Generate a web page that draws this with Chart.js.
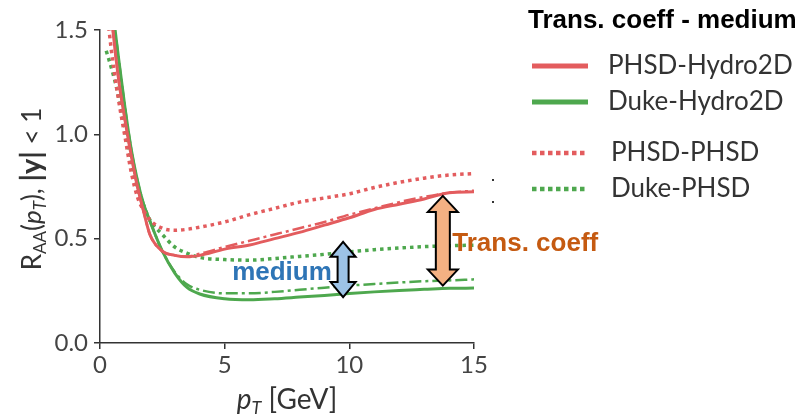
<!DOCTYPE html>
<html>
<head>
<meta charset="utf-8">
<script src="https://cdn.jsdelivr.net/npm/chart.js@4/dist/chart.umd.min.js"></script>
<style>
html,body{margin:0;padding:0;background:#fff;}
canvas{display:block;}
</style>
</head>
<body>
<canvas id="c" width="807" height="414"></canvas>
<script>
// ---- data ----
const pT = [0.25,0.5,0.75,1.0,1.25,1.5,1.75,2.0,2.5,3.0,3.5,4,5,6,7,8,9,10,11,12,13,14,15];
const phsdHydro   = [1.85,1.52,1.26,1.07,0.90,0.75,0.63,0.52,0.44,0.42,0.413,0.42,0.45,0.47,0.50,0.53,0.565,0.60,0.64,0.665,0.69,0.72,0.725];
const phsdHydroDD = [1.85,1.52,1.26,1.07,0.90,0.75,0.63,0.52,0.44,0.42,0.415,0.428,0.46,0.49,0.52,0.55,0.58,0.615,0.645,0.675,0.70,0.72,0.73];
const phsdPhsd    = [1.62,1.36,1.16,0.99,0.82,0.70,0.635,0.59,0.55,0.54,0.545,0.555,0.58,0.615,0.645,0.675,0.695,0.715,0.745,0.77,0.79,0.805,0.812];
const dukeHydro   = [2.0,1.62,1.36,1.13,0.93,0.78,0.665,0.585,0.44,0.335,0.265,0.235,0.212,0.207,0.212,0.22,0.228,0.237,0.245,0.252,0.257,0.262,0.263];
const dukeHydroDD = [2.0,1.62,1.36,1.13,0.93,0.78,0.665,0.585,0.44,0.34,0.28,0.255,0.238,0.238,0.245,0.255,0.265,0.275,0.283,0.29,0.296,0.30,0.305];
const dukePhsd    = [1.40,1.30,1.18,1.03,0.88,0.74,0.66,0.59,0.52,0.46,0.43,0.41,0.40,0.397,0.405,0.415,0.425,0.437,0.447,0.455,0.462,0.466,0.469];

const xTicks = [0,5,10,15];
const yTicks = [0.0,0.5,1.0,1.5];

const legendTitle = 'Trans. coeff - medium';
const legendLabels = ['PHSD-Hydro2D','Duke-Hydro2D','PHSD-PHSD','Duke-PHSD'];

// annotations in data coordinates
const arrowMedium = {x:9.75, y0:0.22, y1:0.485, label:'medium', lx:5.3, ly:0.335};
const arrowTrans  = {x:13.75, y0:0.275, y1:0.705, label:'Trans. coeff', lx:14.13, ly:0.474};

const RED = '#e35c5e';
const GREEN = '#4ea84e';

function pts(ys){ return pT.map((x,i)=>({x:x,y:ys[i]})); }

const datasets = [
  {label:legendLabels[0], data:pts(phsdHydro), borderColor:RED, borderWidth:3},
  {label:'', data:pts(phsdHydroDD), borderColor:RED, borderWidth:2.5, borderDash:[12,4,3,4]},
  {label:legendLabels[2], data:pts(phsdPhsd), borderColor:RED, borderWidth:3.5, borderDash:[3.5,4]},
  {label:legendLabels[1], data:pts(dukeHydro), borderColor:GREEN, borderWidth:3},
  {label:'', data:pts(dukeHydroDD), borderColor:GREEN, borderWidth:2.5, borderDash:[12,4,3,4]},
  {label:legendLabels[3], data:pts(dukePhsd), borderColor:GREEN, borderWidth:3.5, borderDash:[3.5,4]},
];
datasets.forEach(d=>{d.fill=false; d.pointRadius=0; d.cubicInterpolationMode='monotone';});

function doubleArrow(ctx, cx, top, bottom, headW, headH, shaftW, fill){
  ctx.save();
  ctx.beginPath();
  ctx.moveTo(cx, top);
  ctx.lineTo(cx+headW/2, top+headH);
  ctx.lineTo(cx+shaftW/2, top+headH);
  ctx.lineTo(cx+shaftW/2, bottom-headH);
  ctx.lineTo(cx+headW/2, bottom-headH);
  ctx.lineTo(cx, bottom);
  ctx.lineTo(cx-headW/2, bottom-headH);
  ctx.lineTo(cx-shaftW/2, bottom-headH);
  ctx.lineTo(cx-shaftW/2, top+headH);
  ctx.lineTo(cx-headW/2, top+headH);
  ctx.closePath();
  ctx.fillStyle = fill; ctx.fill();
  ctx.lineWidth = 2; ctx.strokeStyle = '#000'; ctx.lineJoin='miter'; ctx.stroke();
  ctx.restore();
}

function drawRuns(ctx, runs, x, y){
  let cx = x;
  runs.forEach(r=>{ ctx.font=r.font; ctx.fillText(r.t, cx, y+(r.dy||0)); cx += ctx.measureText(r.t).width; });
}
function runsWidth(ctx, runs){
  let w=0; runs.forEach(r=>{ctx.font=r.font; w+=ctx.measureText(r.t).width;}); return w;
}

const overlay = {
  id:'overlay',
  afterDraw(chart){
    const ctx = chart.ctx, xs = chart.scales.x, ys = chart.scales.y;
    ctx.save();
    // arrows
    doubleArrow(ctx, xs.getPixelForValue(arrowMedium.x), ys.getPixelForValue(arrowMedium.y1), ys.getPixelForValue(arrowMedium.y0), 25, 15, 11, '#9dc3e6');
    doubleArrow(ctx, xs.getPixelForValue(arrowTrans.x), ys.getPixelForValue(arrowTrans.y1), ys.getPixelForValue(arrowTrans.y0), 30, 16, 14, '#f4b183');
    ctx.textBaseline='middle'; ctx.textAlign='left';
    ctx.font='bold 26px "Liberation Sans", Arial, sans-serif';
    ctx.fillStyle='#2e75b6';
    ctx.fillText(arrowMedium.label, xs.getPixelForValue(arrowMedium.lx), ys.getPixelForValue(arrowMedium.ly));
    ctx.fillStyle='#c55a11';
    ctx.fillText(arrowTrans.label, xs.getPixelForValue(arrowTrans.lx), ys.getPixelForValue(arrowTrans.ly));

    // stray dots (cropped legend remnants)
    ctx.fillStyle='#333';
    ctx.fillRect(492,179,2,2); ctx.fillRect(492,201,2,2);

    // axis titles
    ctx.fillStyle='#333';
    ctx.textBaseline='alphabetic';
    const xr = [{t:'p',font:'italic 28px Lato, sans-serif'},{t:'T',font:'italic 18px Lato, sans-serif',dy:5},{t:' [GeV]',font:'28px Lato, sans-serif'}];
    const xw = runsWidth(ctx,xr);
    drawRuns(ctx, xr, (xs.left+xs.right)/2 - xw/2, 409);

    const base = '26px Lato, sans-serif';
    const sub  = '17px Lato, sans-serif';
    const yr = [{t:'R',font:base},{t:'AA',font:sub,dy:5},{t:'(',font:base},{t:'p',font:'italic 26px Lato, sans-serif'},{t:'T',font:'italic 17px Lato, sans-serif',dy:5},{t:'), ',font:base},{t:'|y|',font:'bold 29px Lato, sans-serif'},{t:' < 1',font:base}];
    const yw = runsWidth(ctx,yr);
    ctx.save();
    ctx.translate(41, 189);
    ctx.rotate(-Math.PI/2);
    drawRuns(ctx, yr, -yw/2, 0);
    ctx.restore();

    // legend
    ctx.fillStyle='#000';
    ctx.textBaseline='middle';
    ctx.font='bold 26px "Liberation Sans", Arial, sans-serif';
    ctx.fillText(legendTitle, 528, 21);
    const items = [
      {ds:datasets[0], y:66, tx:608},
      {ds:datasets[3], y:102, tx:608},
      {ds:datasets[2], y:153, tx:611},
      {ds:datasets[5], y:189, tx:611},
    ];
    items.forEach(it=>{
      ctx.save();
      ctx.strokeStyle = it.ds.borderColor;
      ctx.lineWidth = it.ds.borderDash ? 4.5 : 5;
      if(it.ds.borderDash){ ctx.setLineDash([4.5,3.5]); }
      ctx.beginPath(); ctx.moveTo(532, it.y); ctx.lineTo(588, it.y); ctx.stroke();
      ctx.restore();
      ctx.fillStyle='#333';
      ctx.font='26px Lato, sans-serif';
      ctx.fillText(it.ds.label, it.tx, it.y);
    });
    ctx.restore();
  }
};

new Chart(document.getElementById('c'), {
  type:'line',
  data:{datasets:datasets},
  options:{
    responsive:false, animation:false,
    layout:{padding:{left:0,right:333,top:30,bottom:0}},
    plugins:{legend:{display:false}, tooltip:{enabled:false}},
    scales:{
      x:{type:'linear', min:0, max:15,
         afterBuildTicks:s=>{s.ticks = xTicks.map(v=>({value:v}));},
         afterFit:s=>{s.height=71;},
         ticks:{color:'#444', font:{family:'Lato', size:24}, padding:2, callback:v=>String(v)},
         grid:{drawOnChartArea:false, tickLength:6, color:'#333', lineWidth:1.5},
         border:{color:'#333', width:1.5}},
      y:{min:0, max:1.5,
         afterBuildTicks:s=>{s.ticks = yTicks.map(v=>({value:v}));},
         afterFit:s=>{s.width=100;},
         ticks:{color:'#444', font:{family:'Lato', size:24}, padding:6, callback:v=>Number(v).toFixed(1)},
         grid:{drawOnChartArea:false, tickLength:6, color:'#333', lineWidth:1.5},
         border:{color:'#333', width:1.5}}
    }
  },
  plugins:[overlay]
});
</script>
</body>
</html>
